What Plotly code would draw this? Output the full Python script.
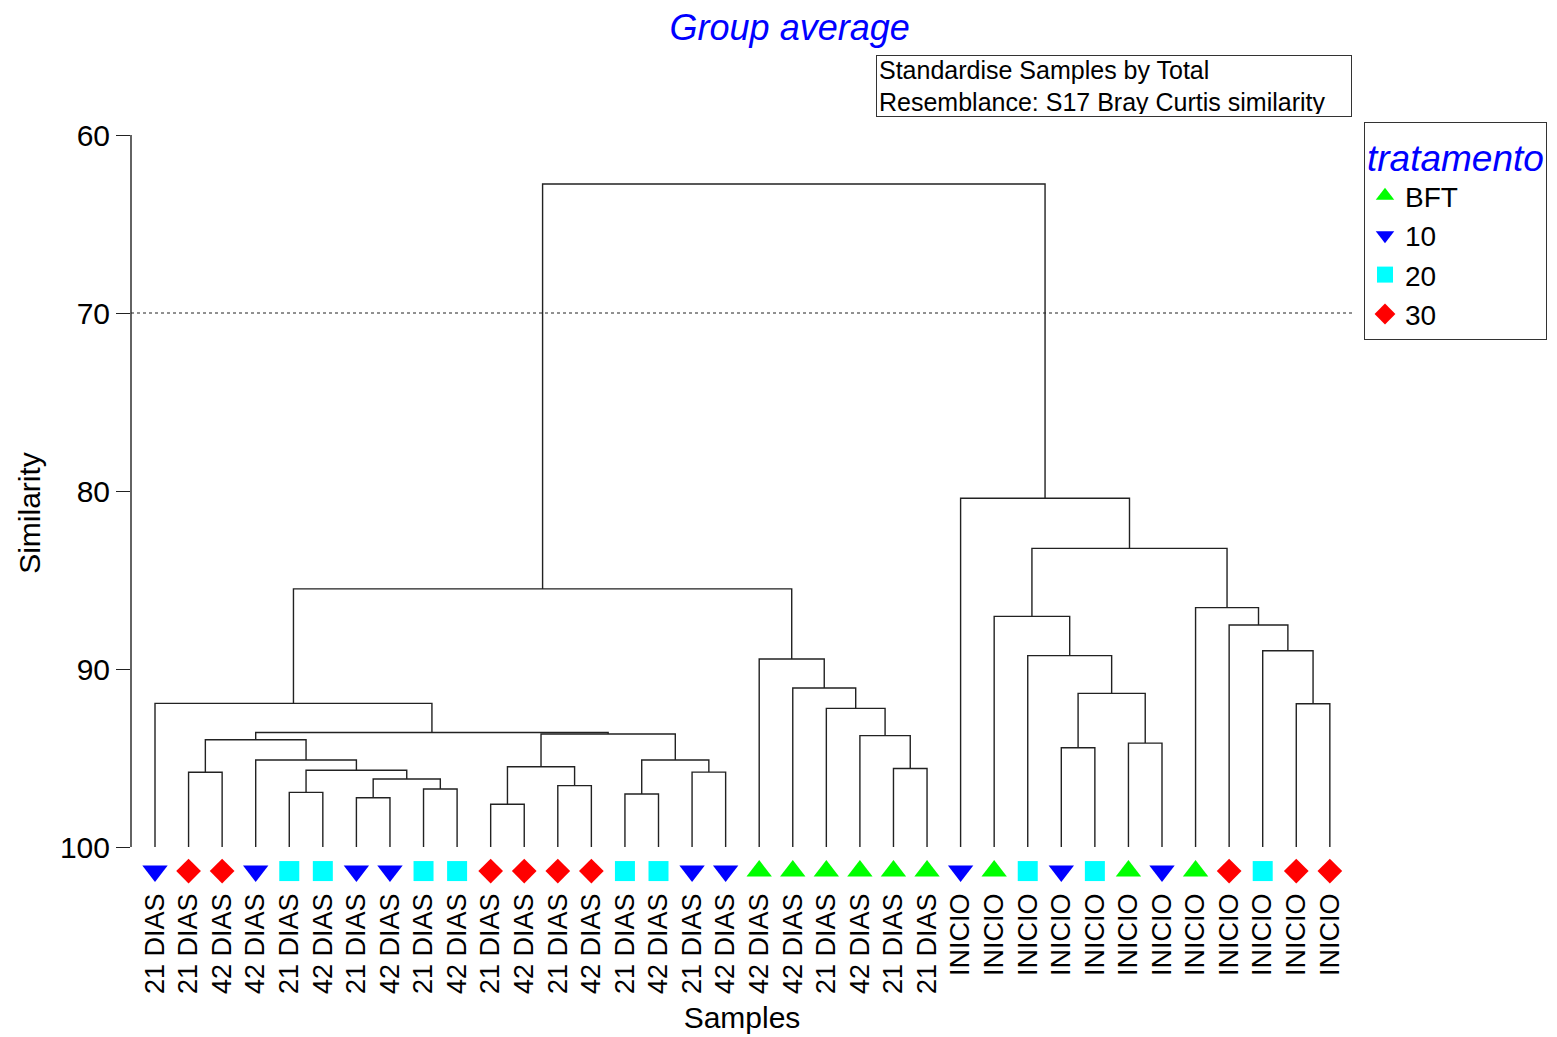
import plotly.graph_objects as go

# ---------------- data ----------------
sample_labels = (["21 DIAS", "21 DIAS", "42 DIAS", "42 DIAS", "21 DIAS", "42 DIAS",
                  "21 DIAS", "42 DIAS", "21 DIAS", "42 DIAS", "21 DIAS", "42 DIAS",
                  "21 DIAS", "42 DIAS", "21 DIAS", "42 DIAS", "21 DIAS", "42 DIAS",
                  "42 DIAS", "42 DIAS", "21 DIAS", "42 DIAS", "21 DIAS", "21 DIAS"]
                 + ["INICIO"] * 12)
treatment = ["10", "30", "30", "10", "20", "20", "10", "10", "20", "20", "30", "30",
             "30", "30", "20", "20", "10", "10", "BFT", "BFT", "BFT", "BFT", "BFT", "BFT",
             "10", "BFT", "20", "10", "20", "BFT", "10", "BFT", "30", "20", "30", "30"]

# linkage: (child_a, child_b, similarity); ids >= n_leaves refer to earlier merges
merge_a = [1, 4, 6, 8, 38, 37, 3, 36, 10, 12, 44, 14, 16, 47, 46, 43, 0,
           22, 21, 20, 19, 18, 52, 27, 29, 59, 26, 25, 34, 33, 32, 31, 63, 24, 58]
merge_b = [2, 5, 7, 9, 39, 40, 41, 42, 11, 13, 45, 15, 17, 48, 49, 50, 51,
           23, 53, 54, 55, 56, 57, 28, 30, 60, 61, 62, 35, 64, 65, 66, 67, 68, 69]
merge_sim = [95.8, 96.93, 97.23, 96.74, 96.18, 95.69, 95.11, 93.97, 97.6, 96.55,
             95.49, 97.02, 95.79, 95.11, 93.65, 93.57, 91.93, 95.59, 93.74, 92.21,
             91.07, 89.44, 85.5, 94.42, 94.16, 91.37, 89.25, 87.04, 91.95, 88.97,
             87.53, 86.55, 83.22, 80.41, 62.75]

y_ticks = [60, 70, 80, 90, 100]
cut_level = 70
groups = ["BFT", "10", "20", "30"]
group_color = {"BFT": "#00FF00", "10": "#0000FF", "20": "#00FFFF", "30": "#FF0000"}
group_symbol = {"BFT": "triangle-up", "10": "triangle-down", "20": "square", "30": "diamond"}
group_size = {"BFT": 22, "10": 22, "20": 20, "30": 19}

# ---------------- dendrogram geometry ----------------
n = len(sample_labels)
node_x = {i: float(i) for i in range(n)}
node_y = {i: 100.0 for i in range(n)}
lx, ly = [], []
for k, (a, b, s) in enumerate(zip(merge_a, merge_b, merge_sim)):
    xa, xb = node_x[a], node_x[b]
    lx += [xa, xa, xb, xb, None]
    ly += [node_y[a], s, s, node_y[b], None]
    node_x[n + k] = (xa + xb) / 2
    node_y[n + k] = s

FONT = "Liberation Sans, Arial, sans-serif"
LINE = "#222"
Y_RANGE = [102.47, 60]   # extra room below 100 holds the leaf symbols
MARKER_Y = 101.35

fig = go.Figure()
fig.add_trace(go.Scatter(x=lx, y=ly, mode="lines", line=dict(color=LINE, width=1.4),
                         hoverinfo="skip", showlegend=False))

for g in groups:
    idx = [i for i, t in enumerate(treatment) if t == g]
    fig.add_trace(go.Scatter(
        x=idx, y=[MARKER_Y] * len(idx), mode="markers", name=g, cliponaxis=False,
        marker=dict(symbol=group_symbol[g], color=group_color[g], size=group_size[g],
                    line=dict(width=0))))

# similarity axis line (60..100) and cut level
fig.add_shape(type="line", xref="paper", x0=0, x1=0, yref="y", y0=min(y_ticks), y1=max(y_ticks),
              line=dict(color=LINE, width=1.4))
fig.add_shape(type="line", xref="paper", x0=0, x1=1, yref="y", y0=cut_level, y1=cut_level,
              line=dict(color=LINE, width=1, dash="dot"))

PLOT_BOTTOM = 883   # figure px (page px minus 8px body margin)
fig.update_layout(
    width=1549, height=1029,
    margin=dict(l=123, r=204, t=127, b=146, autoexpand=False),
    paper_bgcolor="white", plot_bgcolor="white",
    font=dict(family=FONT, color="black"),
    title=dict(text="Group average", x=0.539, xref="paper", xanchor="center",
               y=0.9815, yanchor="middle",
               font=dict(size=36, color="#0000FF", style="italic", family=FONT)),
    xaxis=dict(range=[-0.715, 35.69], tickmode="array", tickvals=list(range(n)),
               ticktext=sample_labels, tickangle=-90, ticks="", showline=False,
               showgrid=False, zeroline=False, tickfont=dict(size=27),
               ticklabelstandoff=-4,
               title=dict(text="Samples", font=dict(size=30), standoff=14)),
    yaxis=dict(range=Y_RANGE, tickmode="array", tickvals=y_ticks, ticks="outside",
               ticklen=14, tickwidth=1.4, tickcolor=LINE, showline=False,
               showgrid=False, zeroline=False,
               tickfont=dict(size=30), ticklabelstandoff=0,
               title=dict(text="Similarity", font=dict(size=30), standoff=10)),
    yaxis2=dict(range=Y_RANGE, overlaying="y", anchor="x", side="left",
                tickmode="array", tickvals=y_ticks, ticks="inside", ticklen=12,
                tickwidth=1.4, tickcolor=LINE, showticklabels=False,
                showline=False, showgrid=False, zeroline=False),
    legend=dict(x=1.009, y=(883 - 114) / 756, xanchor="left", yanchor="top",
                bordercolor="#333", borderwidth=1, bgcolor="white",
                font=dict(size=28), tracegroupgap=0, itemwidth=30,
                title=dict(text="tratamento",
                           font=dict(size=37, color="#0000FF", style="italic"))),
    showlegend=True,
)

fig.add_annotation(
    xref="paper", yref="paper", x=(868 - 123) / 1222, y=(PLOT_BOTTOM - 47) / 756,
    xanchor="left", yanchor="top", align="left", showarrow=False,
    text="Standardise Samples by Total<br>Resemblance: S17 Bray Curtis similarity",
    font=dict(size=25, color="black"), bordercolor="#333", borderwidth=1,
    borderpad=2, width=470, height=56, bgcolor="white")

fig.write_html("out.html")
